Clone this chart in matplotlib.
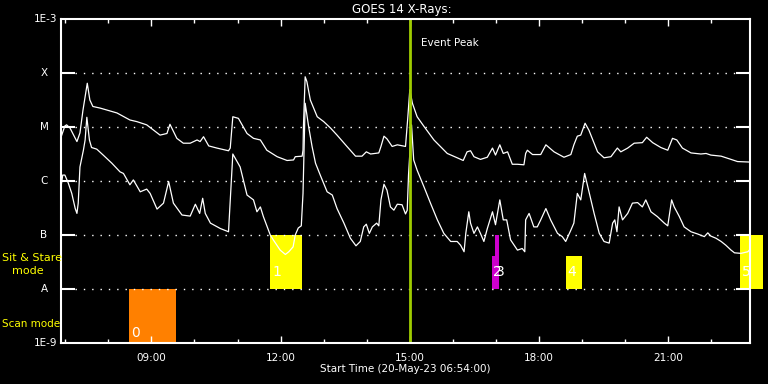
import numpy as np
import matplotlib.pyplot as plt
from matplotlib.transforms import blended_transform_factory

# data
#
# GOES 14 long channel (1-8 A): hour of day, log10 flux (W/m^2)
long_hours = [6.90, 6.99, 7.03, 7.11, 7.27, 7.34, 7.41, 7.51, 7.57, 7.64, 7.81, 8.20,
              8.50, 8.66, 8.89, 9.20, 9.36, 9.43, 9.59, 9.74, 9.90, 10.06, 10.13, 10.21,
              10.33, 10.52, 10.79, 10.83, 10.89, 11.02, 11.22, 11.37, 11.53, 11.68, 11.92,
              12.15, 12.30, 12.34, 12.50, 12.52, 12.53, 12.57, 12.61, 12.69, 12.85, 13.00,
              13.16, 13.31, 13.54, 13.74, 13.89, 13.99, 14.09, 14.28, 14.33, 14.40, 14.47,
              14.59, 14.71, 14.90, 14.95, 15.00, 15.06, 15.17, 15.33, 15.56, 15.87, 16.10,
              16.24, 16.33, 16.41, 16.49, 16.64, 16.80, 16.92, 16.99, 17.09, 17.17, 17.27,
              17.38, 17.50, 17.65, 17.69, 17.73, 17.85, 18.04, 18.16, 18.35, 18.58, 18.74,
              18.81, 18.89, 18.97, 19.07, 19.16, 19.36, 19.51, 19.67, 19.82, 19.90, 20.06,
              20.21, 20.40, 20.50, 20.64, 20.83, 20.99, 21.10, 21.20, 21.33, 21.53, 21.76,
              21.88, 21.99, 22.23, 22.46, 22.61, 22.92]
long_logflux = [-5.19, -4.98, -4.96, -5.02, -5.27, -5.11, -4.69, -4.19, -4.50, -4.62, -4.65, -4.74,
                -4.87, -4.90, -4.96, -5.15, -5.12, -4.95, -5.21, -5.30, -5.30, -5.24, -5.27, -5.18,
                -5.35, -5.39, -5.44, -5.39, -4.81, -4.84, -5.12, -5.21, -5.24, -5.43, -5.55,
                -5.62, -5.61, -5.55, -5.54, -5.43, -4.99, -4.07, -4.16, -4.50, -4.81, -4.90,
                -5.02, -5.15, -5.36, -5.54, -5.54, -5.46, -5.50, -5.48, -5.36, -5.17, -5.22,
                -5.36, -5.33, -5.36, -4.86, -4.31, -4.56, -4.81, -4.99, -5.24, -5.49, -5.57,
                -5.62, -5.46, -5.44, -5.55, -5.60, -5.56, -5.39, -5.52, -5.33, -5.49, -5.46,
                -5.69, -5.69, -5.70, -5.49, -5.43, -5.51, -5.51, -5.33, -5.46, -5.56, -5.51,
                -5.33, -5.17, -5.15, -4.93, -5.06, -5.46, -5.57, -5.55, -5.39, -5.46, -5.39,
                -5.30, -5.29, -5.19, -5.29, -5.38, -5.43, -5.21, -5.24, -5.39, -5.48, -5.50,
                -5.49, -5.52, -5.54, -5.60, -5.64, -5.65]

# GOES 14 short channel (0.5-4 A)
short_hours = [6.90, 6.94, 6.99, 7.07, 7.15, 7.23, 7.27, 7.30, 7.34, 7.42, 7.46, 7.50, 7.56,
               7.61, 7.73, 7.88, 8.08, 8.27, 8.35, 8.50, 8.58, 8.74, 8.89, 8.97, 9.13, 9.28,
               9.40, 9.51, 9.71, 9.90, 10.02, 10.12, 10.19, 10.25, 10.37, 10.60, 10.79, 10.83,
               10.89, 11.06, 11.22, 11.37, 11.45, 11.53, 11.60, 11.76, 11.83, 11.99, 12.11,
               12.19, 12.29, 12.34, 12.41, 12.48, 12.52, 12.57, 12.65, 12.73, 12.81, 12.92,
               13.08, 13.20, 13.31, 13.47, 13.62, 13.75, 13.85, 13.93, 13.99, 14.06, 14.13,
               14.23, 14.28, 14.33, 14.40, 14.47, 14.55, 14.63, 14.71, 14.82, 14.90, 14.94,
               14.97, 15.04, 15.09, 15.17, 15.33, 15.48, 15.64, 15.79, 15.95, 16.10, 16.18,
               16.26, 16.30, 16.37, 16.41, 16.49, 16.57, 16.64, 16.72, 16.80, 16.92, 16.99,
               17.09, 17.17, 17.25, 17.34, 17.50, 17.61, 17.67, 17.69, 17.77, 17.88, 17.96,
               18.04, 18.16, 18.27, 18.43, 18.54, 18.62, 18.74, 18.81, 18.89, 18.97, 19.06,
               19.16, 19.28, 19.40, 19.51, 19.63, 19.71, 19.76, 19.81, 19.86, 19.94, 20.06,
               20.17, 20.29, 20.40, 20.48, 20.60, 20.75, 20.91, 20.99, 21.08, 21.14, 21.26,
               21.37, 21.53, 21.68, 21.84, 21.92, 21.99, 22.11, 22.23, 22.34, 22.46, 22.54,
               22.69, 22.85, 22.92]
short_logflux = [-6.11, -5.89, -5.89, -6.04, -6.23, -6.51, -6.60, -6.41, -5.74, -5.43, -5.24, -4.82, -5.24,
                 -5.38, -5.41, -5.52, -5.67, -5.83, -5.86, -6.07, -5.98, -6.20, -6.15, -6.23, -6.52, -6.41,
                 -6.01, -6.41, -6.63, -6.65, -6.43, -6.60, -6.32, -6.60, -6.78, -6.88, -6.94, -6.35,
                 -5.50, -5.74, -6.26, -6.35, -6.57, -6.48, -6.66, -7.00, -7.09, -7.28, -7.36,
                 -7.31, -7.22, -7.00, -6.87, -6.83, -6.23, -4.56, -4.99, -5.36, -5.67, -5.89,
                 -6.20, -6.26, -6.51, -6.78, -7.06, -7.20, -7.12, -6.85, -6.80, -6.97, -6.85,
                 -6.78, -6.83, -6.35, -6.06, -6.17, -6.48, -6.54, -6.43, -6.44, -6.61, -6.54,
                 -5.89, -4.96, -5.61, -5.80, -6.11, -6.41, -6.72, -6.97, -7.12, -7.12, -7.19,
                 -7.31, -6.97, -6.57, -6.78, -6.97, -6.85, -6.97, -7.12, -6.88, -6.57, -6.81,
                 -6.35, -6.72, -6.72, -7.09, -7.28, -7.25, -7.31, -6.72, -6.60, -6.85, -6.85,
                 -6.72, -6.51, -6.72, -6.97, -7.03, -7.12, -6.91, -6.78, -6.23, -6.35, -5.86,
                 -6.20, -6.60, -6.97, -7.12, -7.15, -6.78, -6.72, -6.94, -6.48, -6.72, -6.60,
                 -6.41, -6.40, -6.48, -6.35, -6.57, -6.66, -6.78, -6.83, -6.35, -6.48, -6.66,
                 -6.85, -6.94, -6.98, -7.03, -6.96, -7.02, -7.06, -7.12, -7.19, -7.28, -7.33,
                 -7.34, -7.31, -7.25]

# observations: number, mode, start/end hour, log10 flux extent of the box
obs_labels = ['0', '1', '2', '3', '4', '5']
obs_modes = ['scan', 'sit', 'other', 'other', 'sit', 'sit']
obs_start = [8.48, 11.76, 16.90, 16.97, 18.62, 22.67]
obs_end = [9.57, 12.50, 17.04, 17.06, 18.99, 23.20]
obs_low = [-9.0, -8.0, -8.0, -8.0, -8.0, -8.0]
obs_high = [-8.0, -7.0, -7.39, -7.0, -7.39, -7.0]

event_peak = 15.0
t_start, t_end = 6.9, 22.9
class_labels = ['X', 'M', 'C', 'B', 'A']
class_levels = [1e-4, 1e-5, 1e-6, 1e-7, 1e-8]
hour_ticks = [9, 12, 15, 18, 21]

# plot
#
mode_colors = {'scan': '#ff8000', 'sit': '#ffff00', 'other': '#cc00cc'}

fig = plt.figure(figsize=(7.68, 3.84), dpi=100, facecolor='black')
ax = fig.add_axes([61 / 768, 1 - 343 / 384, 689 / 768, 324 / 384])
ax.set_facecolor('black')
ax.set_yscale('log')
ax.set_xlim(t_start, t_end)
ax.set_ylim(1e-9, 1e-3)

for lab, mode, s, e, lo, hi in zip(obs_labels, obs_modes, obs_start, obs_end, obs_low, obs_high):
    ax.fill_between([s, e], 10 ** lo, 10 ** hi, color=mode_colors[mode], lw=0,
                    clip_on=False, zorder=1)
    ly = 10 ** -8.81 if mode == 'scan' else 10 ** -7.685
    ax.text(s + 0.04, ly, lab, color='white', fontsize=10, ha='left', va='center', zorder=4)

for lev in class_levels:
    ax.axhline(lev, xmin=14 / 689, xmax=1 - 14 / 689, color='white', lw=1,
               ls=(0, (1, 5)), zorder=2)

ax.plot(long_hours, 10 ** np.array(long_logflux), color='white', lw=0.9, zorder=3)
ax.plot(short_hours, 10 ** np.array(short_logflux), color='white', lw=0.9, zorder=3)

ax.axvline(event_peak, color='#9fcc00', lw=2, zorder=5)
ax.text(event_peak + 0.26, 10 ** -3.45, 'Event Peak', color='white', fontsize=7.5,
        ha='left', va='center')

# axes styling
#
for sp in ax.spines.values():
    sp.set_color('white')
    sp.set_linewidth(1.5)
    sp.set_zorder(6)

ax.set_xticks(hour_ticks)
ax.set_xticklabels(['%02d:00' % h for h in hour_ticks])
ax.set_xticks(range(7, 23), minor=True)
ax.tick_params(axis='x', which='major', direction='in', length=5, width=1,
               color='white', labelcolor='white', labelsize=7.5, top=True, pad=7)
ax.tick_params(axis='x', which='minor', direction='in', length=3, width=1,
               color='white', top=True)

ax.set_yticks(class_levels)
ax.set_yticklabels([])
ax.yaxis.set_minor_locator(plt.NullLocator())
ax.tick_params(axis='y', which='major', direction='in', length=10, width=1.5,
               color='white', right=True)

# label
#
trans = blended_transform_factory(fig.transFigure, ax.transData)
ax.text(57 / 768, 1e-3, '1E-3', transform=trans, color='white', fontsize=7.5,
        ha='right', va='center')
ax.text(57 / 768, 1e-9, '1E-9', transform=trans, color='white', fontsize=7.5,
        ha='right', va='center')
for lab, lev in zip(class_labels, class_levels):
    ax.text(44 / 768, lev, lab, transform=trans, color='white', fontsize=7.5,
            ha='center', va='center')

fig.text(2 / 768, 1 - 258 / 384, 'Sit & Stare', color='yellow', fontsize=8,
         ha='left', va='center')
fig.text(12 / 768, 1 - 271 / 384, 'mode', color='yellow', fontsize=8,
         ha='left', va='center')
fig.text(2 / 768, 1 - 324 / 384, 'Scan mode', color='yellow', fontsize=7.5,
         ha='left', va='center')

fig.text(402 / 768, 1 - 10 / 384, 'GOES 14 X-Rays:', color='white', fontsize=8.5,
         ha='center', va='center')
fig.text(405 / 768, 1 - 369 / 384, 'Start Time (20-May-23 06:54:00)', color='white',
         fontsize=7.5, ha='center', va='center')

# output
#
plt.savefig('out.png', dpi=100, facecolor='black')
